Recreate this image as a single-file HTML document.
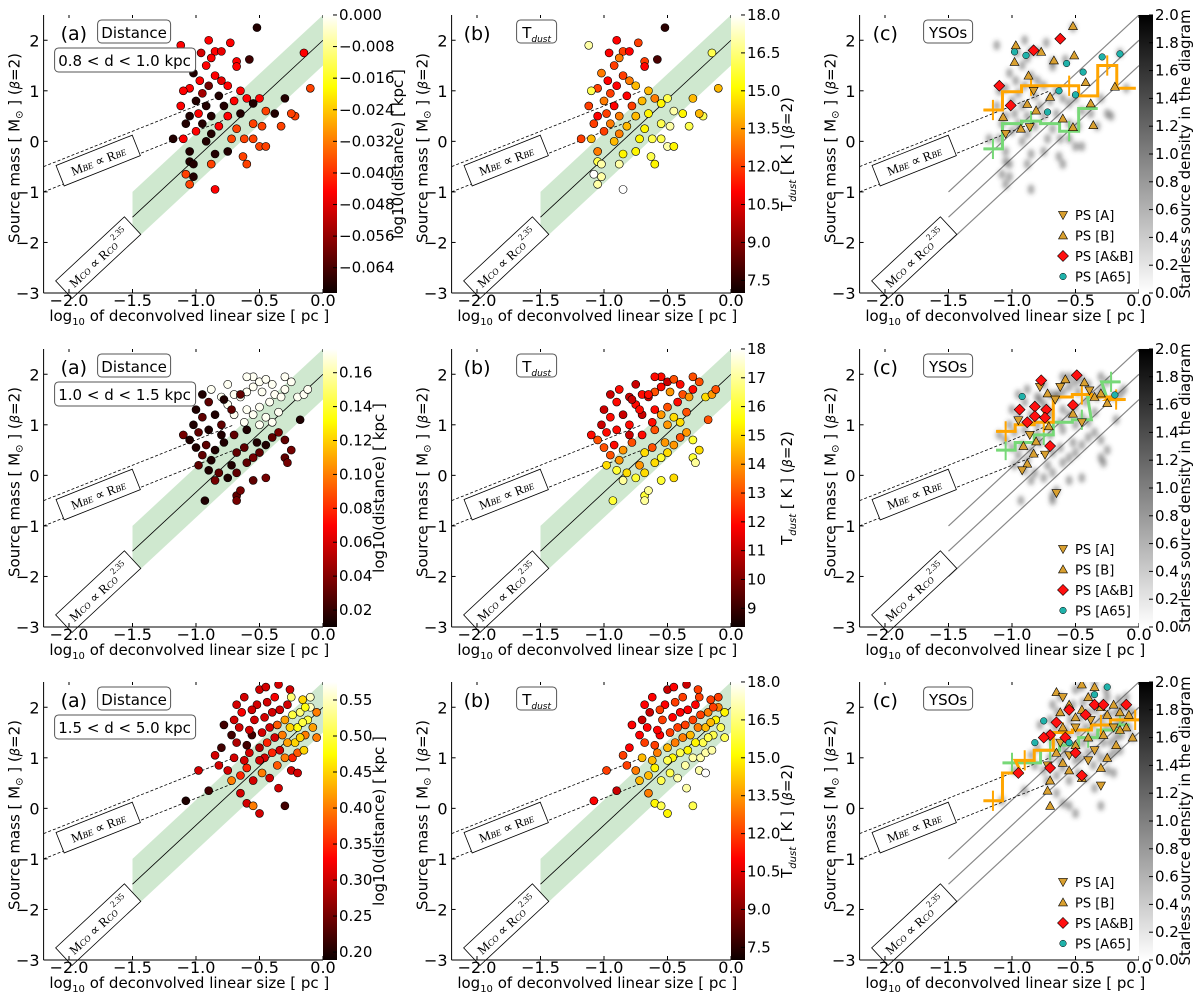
<!DOCTYPE html>
<html><head><meta charset="utf-8"><style>
html,body{margin:0;padding:0;background:#fff;}
svg{display:block;font-family:"DejaVu Sans","Liberation Sans",sans-serif;}
</style></head><body>
<svg id="fig" width="1200" height="992" viewBox="0 0 1200 992" xmlns="http://www.w3.org/2000/svg">
<defs>
<filter id="blur" x="-50%" y="-50%" width="200%" height="200%"><feGaussianBlur stdDeviation="2.2"/></filter>
<linearGradient id="hotg" x1="0" y1="1" x2="0" y2="0">
<stop offset="0" stop-color="#0b0000"/><stop offset="0.365" stop-color="#ff0000"/><stop offset="0.74" stop-color="#ffff00"/><stop offset="1" stop-color="#ffffff"/>
</linearGradient>
<linearGradient id="grayg" x1="0" y1="1" x2="0" y2="0">
<stop offset="0" stop-color="#ffffff"/><stop offset="1" stop-color="#000000"/>
</linearGradient>
</defs>
</svg>
<script>
// ---------- Row 1 (0.8<d<1.0 kpc) ----------
const r1x = [-0.52,-0.9,-0.73,-1.12,-0.96,-0.85,-0.8,-0.88,-0.68,-0.58,-0.92,-0.68,-1.02,-0.97,-0.85,-0.8,-0.75,-0.9,-1.05,-1.1,-0.65,-0.6,-0.95,-0.82,-0.7,-1.0,-1.12,-0.92,-0.78,-0.55,-0.5,-0.3,-0.15,-0.1,-0.45,-0.38,-0.22,-0.25,-1.05,-0.98,-0.88,-0.75,-0.65,-1.08,-0.95,-0.82,-0.68,-0.55,-0.48,-0.33,-1.0,-0.88,-0.72,-0.62,-1.1,-1.18,-0.92,-1.05,-0.85,-0.75,-0.63,-0.5,-0.45,-1.05,-1.02,-0.88,-0.6,-1.08,-1.02,-0.85,-1.05,-0.55];
const r1y = [2.25,2.0,1.95,1.9,1.75,1.78,1.78,1.65,1.58,1.62,1.5,1.48,1.35,1.2,1.3,1.2,1.1,1.1,1.05,1.0,1.0,0.85,0.95,0.9,0.8,0.8,0.7,0.7,0.7,0.75,0.85,0.85,1.75,1.05,0.6,0.55,0.5,0.55,0.5,0.55,0.5,0.5,0.55,0.35,0.35,0.3,0.25,0.35,0.3,0.3,0.2,0.15,0.05,0.05,0.05,0.05,0.0,-0.2,-0.25,-0.2,-0.3,-0.1,-0.1,-0.4,-0.45,-0.45,-0.45,-0.65,-0.7,-0.95,-0.85,0.05];
const r1d = [-0.068,-0.045,-0.045,-0.045,-0.05,-0.045,-0.048,-0.045,-0.045,-0.065,-0.045,-0.045,-0.068,-0.045,-0.045,-0.048,-0.045,-0.06,-0.045,-0.045,-0.045,-0.045,-0.055,-0.068,-0.045,-0.068,-0.045,-0.068,-0.068,-0.068,-0.045,-0.068,-0.045,-0.038,-0.038,-0.068,-0.038,-0.038,-0.068,-0.045,-0.068,-0.045,-0.068,-0.068,-0.068,-0.045,-0.038,-0.038,-0.038,-0.038,-0.045,-0.068,-0.038,-0.038,-0.045,-0.068,-0.068,-0.068,-0.068,-0.068,-0.038,-0.038,-0.038,-0.068,-0.068,-0.038,-0.038,-0.038,-0.068,-0.045,-0.038,-0.038];
const r1t = [7.5,11,12,17,11,12,11,13,12,8,12,11,13,11,12,13,14,11,12,16,14,13,12,11,14,13,12,11,12,15,16,14,16,14,17,15,16,14,11,12,13,14,15,12,13,14,15,16,17,16,12,13,15,16,14,12,14,13,15,15,16,17,15,16,17,17,15,18,17,18,17,16];
// ---------- Row 2 (1.0<d<1.5 kpc) ----------
const r2x = [-0.7,-0.65,-0.6,-0.55,-0.5,-0.55,-0.45,-0.4,-0.48,-0.38,-0.3,-0.25,-0.33,-0.2,-0.15,-0.12,-0.42,-0.5,-0.6,-0.55,-0.45,-0.35,-0.4,-0.5,-0.62,-0.7,-0.75,-0.8,-0.88,-0.75,-0.6,-0.3,
 -0.95,-0.9,-1.0,-0.95,-1.02,-0.98,-1.05,-0.92,-0.85,-0.95,-0.88,-0.98,-0.9,-0.82,-0.85,-0.75,-0.68,-0.72,-0.6,-0.55,-0.5,-0.45,-0.4,-0.35,-0.3,-0.25,-0.3,-0.28,-0.18,-0.68,-0.68,-0.65,-0.55,-0.45,-0.93,-0.78,-0.7,-0.6,-0.8,-0.85,-0.72,-0.78,-0.65,-0.9,-0.62,-0.52,-0.68,-1.1,-1.0,-0.8];
const r2y = [1.6,1.55,1.65,1.75,1.85,1.95,1.9,1.8,1.65,1.6,1.7,1.85,1.55,1.55,1.6,1.7,1.45,1.35,1.3,1.2,1.15,1.25,1.05,1.0,1.05,1.2,1.4,1.55,1.7,1.8,1.95,1.95,
 1.6,1.45,1.3,1.15,1.0,0.85,0.7,0.6,0.5,0.4,0.3,0.2,0.1,0.05,-0.1,-0.05,0.05,0.2,0.25,0.35,0.45,0.6,0.75,0.85,0.7,0.5,0.35,0.25,1.1,-0.4,-0.5,-0.3,-0.1,-0.05,-0.5,0.65,0.8,0.9,1.0,1.2,1.3,1.5,1.6,0.9,0.55,0.65,0.45,0.8,0.55,0.8];
const r2d = [0.172,0.172,0.172,0.172,0.172,0.172,0.172,0.172,0.172,0.172,0.172,0.172,0.172,0.172,0.172,0.172,0.172,0.172,0.172,0.172,0.172,0.172,0.172,0.172,0.172,0.172,0.172,0.172,0.172,0.172,0.172,0.172,
 0.015,0.03,0.015,0.03,0.015,0.03,0.015,0.03,0.015,0.03,0.015,0.03,0.015,0.03,0.035,0.015,0.03,0.015,0.03,0.035,0.03,0.015,0.03,0.035,0.03,0.035,0.03,0.035,0.015,0.03,0.035,0.035,0.03,0.035,0.015,0.015,0.03,0.015,0.03,0.015,0.03,0.015,0.03,0.015,0.03,0.015,0.03,0.035,0.015,0.015,0.015,0.03];
const r2t = [12,11,13,12,11,12,13,12,14,13,12,13,14,15,14,13,12,13,12,14,15,13,15,14,12,11,12,11,12,11,12,13,
 11,12,11,12,11,12,13,12,14,13,14,15,16,15,17,16,15,14,15,16,15,14,13,14,16,15,16,17,13,16,17,17,16,15,16,13,12,13,12,11,12,11,12,12,13,14,15,12,13,11];
// ---------- Row 3 (1.5<d<5.0 kpc) ----------
const r3x = [-1.08,-0.98,-0.9,-0.82,-0.78,-0.72,-0.65,-0.6,-0.55,-0.5,-0.3,-0.25,
 -0.7,-0.68,-0.66,-0.64,-0.62,-0.6,-0.58,-0.56,-0.54,-0.52,-0.5,-0.48,-0.46,-0.44,-0.42,-0.4,-0.38,-0.36,-0.34,-0.32,-0.3,-0.28,-0.26,-0.24,-0.22,-0.2,-0.18,-0.16,-0.14,-0.12,-0.1,-0.08,-0.05,-0.72,-0.7,-0.68,-0.62,-0.6,-0.58,-0.56,-0.5,-0.5,-0.48,-0.46,-0.44,-0.42,-0.4,-0.38,-0.36,-0.34,-0.3,-0.28,-0.26,-0.24,-0.2,-0.18,-0.16,-0.14,-0.45,-0.35,-0.25,-0.55,-0.65,-0.8,-0.85,-0.75,-0.35,-0.2,-0.15,-0.05,-0.1];
const r3y = [0.15,0.75,0.35,0.85,1.65,0.55,0.3,0.1,0.05,-0.1,0.05,0.75,
 1.0,1.3,1.6,1.9,2.2,0.8,1.1,1.45,1.75,2.05,2.35,0.7,1.0,1.3,1.6,1.9,2.2,0.85,1.15,1.45,1.75,2.05,2.35,1.0,1.3,1.6,1.9,2.15,1.45,1.75,2.0,1.6,1.9,1.45,1.75,2.05,0.95,1.25,1.55,1.95,0.95,1.2,1.5,1.8,2.1,0.6,1.1,1.4,1.65,1.95,1.0,1.3,1.6,1.85,1.1,1.4,1.7,2.0,2.4,2.45,2.2,0.55,0.65,1.2,1.05,0.75,0.4,0.7,1.15,1.4,2.2];
const r3d = [0.2,0.3,0.22,0.3,0.22,0.4,0.3,0.3,0.4,0.3,0.22,0.3,
 0.3,0.28,0.3,0.32,0.3,0.35,0.3,0.22,0.3,0.3,0.3,0.4,0.3,0.35,0.3,0.3,0.32,0.38,0.3,0.4,0.42,0.3,0.3,0.35,0.45,0.48,0.52,0.45,0.4,0.5,0.55,0.42,0.4,0.22,0.3,0.3,0.3,0.22,0.3,0.3,0.3,0.28,0.3,0.3,0.3,0.3,0.35,0.3,0.38,0.3,0.4,0.42,0.45,0.5,0.38,0.45,0.5,0.48,0.3,0.3,0.52,0.3,0.35,0.22,0.3,0.3,0.3,0.3,0.45,0.4,0.55];
const r3t = [11,12,10,12,11,14,13,15,16,15,16,17,
 14,12,11,10,11,15,13,11,12,11,10,16,15,13,12,11,12,17,15,14,12,11,12,17,16,14,13,12,16,15,13,16,15,11,10,11,14,12,11,12,16,14,12,11,12,17,16,13,12,11,17,15,13,12,17,16,14,12,11,10,12,16,14,11,12,13,17,18,17,16,12];
// ---------- YSO markers (panel c) ----------
const y1x = [-0.97,-0.98,-0.83,-0.77,-0.89,-0.98,-0.87,-0.67,-0.57,-0.51,-0.52,-0.62,-0.44,-0.42,-0.29,-0.15,-0.19,-1.1,-1.01,-1.07,-0.88,-0.81,-0.72,-0.86,-0.93,-1.05,-0.6,-0.52,-0.36,-0.5,-0.38,-0.7,-0.83,-0.63];
const y1y = [1.9,1.77,1.8,1.77,1.7,1.57,1.3,1.6,1.54,1.7,2.28,2.03,1.37,1.17,1.67,1.73,1.08,1.1,0.71,0.48,0.74,0.61,0.58,0.28,0.25,0.15,0.45,0.28,0.32,0.92,0.75,0.88,1.0,1.0];
const y1k = ["B","A65","AB","B","A65","B","B","B","A65","B","B","AB","A65","B","A65","A65","B","AB","AB","B","B","B","A65","A","B","A","B","B","B","A65","B","B","A","A65"];
const y2x = [-0.92,-0.94,-0.88,-0.95,-0.78,-0.77,-0.72,-0.66,-0.82,-0.73,-0.82,-0.74,-0.71,-0.86,-0.81,-0.7,-0.91,-0.83,-0.74,-0.88,-0.92,-0.65,-0.58,-0.49,-0.43,-0.52,-0.39,-0.35,-0.3,-0.25,-0.19,-0.52,-0.45,-0.62];
const y2y = [1.56,1.3,1.05,1.09,1.75,1.88,1.62,1.5,1.36,1.3,1.17,1.14,0.97,0.8,0.67,0.58,0.58,0.43,0.41,0.23,0.1,-0.35,1.9,1.98,1.84,1.39,1.68,1.55,1.62,1.43,1.59,1.22,1.05,1.75];
const y2k = ["A65","AB","AB","A","A","AB","B","A","AB","AB","AB","AB","B","A","B","AB","B","B","A","B","A","A","B","AB","B","AB","A","B","B","B","A65","B","A","A"];
const y3x = [-0.62,-0.55,-0.5,-0.45,-0.4,-0.35,-0.3,-0.25,-0.2,-0.15,-0.1,-0.05,-0.18,-0.25,-0.3,-0.45,-0.55,-0.6,-0.7,-0.72,-0.7,-0.65,-0.5,-0.4,-0.6,-0.45,-0.15,-0.08,-0.28,-0.65,
 -0.6,-0.72,-0.55,-0.35,-0.4,-0.3,-0.5,-0.2,-0.38,-0.62,
 -0.95,-0.7,-0.65,-0.55,-0.42,-0.5,-0.35,-0.28,-0.1,-0.7,-0.45,-0.58,-0.75,
 -0.82,-0.75,-0.35,-0.25,-0.55];
const y3y = [1.9,2.05,1.8,1.95,2.2,2.4,2.0,1.85,2.05,1.9,1.6,1.4,1.25,1.0,0.8,0.6,0.75,0.9,0.55,0.35,0.05,1.1,1.25,1.4,1.6,2.45,1.55,1.85,1.45,2.3,
 2.2,0.85,1.05,1.15,0.95,0.45,1.6,1.6,1.75,1.3,
 0.7,1.45,1.7,1.95,1.85,1.1,2.05,2.05,2.05,0.8,0.65,1.4,1.4,
 1.3,1.73,2.25,2.4,1.3];
const y3k = ["B","B","B","B","B","B","B","B","B","B","B","B","B","B","B","B","B","B","B","B","B","B","B","B","B","B","B","B","B","B",
 "A","A","A","A","A","A","A","A","A","A",
 "AB","AB","AB","AB","AB","AB","AB","AB","AB","AB","AB","AB","AB",
 "A65","A65","A65","A65","A65"];
// ---------- binned medians (orange = PS, green = starless) ----------
const o1c = [-1.15,-1.0,-0.85,-0.7,-0.55,-0.4,-0.25,-0.1];
const o1v = [0.62,0.98,1.1,1.1,1.1,0.9,1.5,1.05];
const g1c = [-1.15,-1.0,-0.85,-0.7,-0.55,-0.4];
const g1v = [-0.15,0.35,0.4,0.35,0.2,0.65];
const o2c = [-1.05,-0.9,-0.75,-0.6,-0.45,-0.3,-0.18];
const o2v = [0.87,1.0,1.05,1.55,1.6,1.55,1.5];
const g2c = [-1.05,-0.9,-0.75,-0.6,-0.45,-0.33,-0.22];
const g2v = [0.5,0.65,0.8,1.05,1.1,1.55,1.85];
const o3c = [-1.15,-1.0,-0.9,-0.75,-0.6,-0.45,-0.3,-0.15,-0.03];
const o3v = [0.15,0.7,0.95,1.15,1.5,1.55,1.65,1.75,1.75];
const g3c = [-1.0,-0.85,-0.7,-0.55,-0.4,-0.25,-0.15];
const g3v = [0.9,0.9,1.15,1.25,1.4,1.55,1.65];
// ---------- tick labels ----------
const xTicks = [-2.0,-1.5,-1.0,-0.5,0.0];
const yTicks = [-3,-2,-1,0,1,2];
const cbDist1 = [0.000,-0.008,-0.016,-0.024,-0.032,-0.040,-0.048,-0.056,-0.064];
const cbDist2 = [0.02,0.04,0.06,0.08,0.10,0.12,0.14,0.16];
const cbDist3 = [0.20,0.25,0.30,0.35,0.40,0.45,0.50,0.55];
const cbT13 = [7.5,9.0,10.5,12.0,13.5,15.0,16.5,18.0];
const cbT2 = [9,10,11,12,13,14,15,16,17,18];
const cbDens = [0.0,0.2,0.4,0.6,0.8,1.0,1.2,1.4,1.6,1.8,2.0];

const svg = document.getElementById('fig');
const NS = 'http://www.w3.org/2000/svg';
const S = 127, U = 50.55;
const RIGHTS = [323,731,1139], BOTTOMS = [293,627,960];

function mk(tag, attrs, name, parent) {
  const el = document.createElementNS(NS, tag);
  for (const k in attrs) el.setAttribute(k, attrs[k]);
  
  
  (parent || svg).appendChild(el);
  return el;
}
function txt(x, y, s, size, name, extra, parent) {
  const a = Object.assign({x: x, y: y, 'font-size': size, fill: '#000'}, extra || {});
  const t = mk('text', a, name, parent);
  t.innerHTML = s;
  return t;
}
function hot(t) {
  t = Math.max(0, Math.min(1, t));
  const r = Math.min(1, 0.04 + t / 0.365);
  const g = Math.max(0, Math.min(1, (t - 0.365) / 0.375));
  const b = Math.max(0, Math.min(1, (t - 0.74) / 0.26));
  return 'rgb(' + Math.round(r*255) + ',' + Math.round(g*255) + ',' + Math.round(b*255) + ')';
}
function fmtTick(v, dec) { return (v < 0 ? '\u2212' : '') + Math.abs(v).toFixed(dec); }

const rows = [
  {x:r1x, y:r1y, d:r1d, t:r1t, drange:[-0.0704,0.0], dticks:cbDist1, ddec:3, trange:[7.0,18.0], tticks:cbT13, tdec:1, label:'0.8 &lt; d &lt; 1.0 kpc', yx:y1x, yy:y1y, yk:y1k, oc:o1c, ov:o1v, gc:g1c, gv:g1v, cbLabelX:403},
  {x:r2x, y:r2y, d:r2d, t:r2t, drange:[0.01,0.174], dticks:cbDist2, ddec:2, trange:[8.35,18.0], tticks:cbT2, tdec:0, label:'1.0 &lt; d &lt; 1.5 kpc', yx:y2x, yy:y2y, yk:y2k, oc:o2c, ov:o2v, gc:g2c, gv:g2v, cbLabelX:384},
  {x:r3x, y:r3y, d:r3d, t:r3t, drange:[0.189,0.575], dticks:cbDist3, ddec:2, trange:[7.0,18.0], tticks:cbT13, tdec:1, label:'1.5 &lt; d &lt; 5.0 kpc', yx:y3x, yy:y3y, yk:y3k, oc:o3c, ov:o3v, gc:g3c, gv:g3v, cbLabelX:384}
];

rows.forEach((R, ri) => {
  for (let ci = 0; ci < 3; ci++) {
    const right = RIGHTS[ci], bottom = BOTTOMS[ri], top = bottom - 5.5*U, left = right - 2.2*S;
    const sx = x => right + x*S, sy = y => bottom - (y+3)*U;
    const g = mk('g', {}, 'panel-' + (ri+1) + '-' + 'abc'[ci]);
    const clipId = 'clip' + ri + ci;
    const cp = mk('clipPath', {id: clipId}, 'plot-clip', g);
    mk('rect', {x: left, y: top, width: right-left, height: bottom-top}, 'clip-rect', cp);
    const plot = mk('g', {'clip-path': 'url(#' + clipId + ')'}, 'plot-area', g);

    if (ci < 2) {
      mk('polygon', {points: [sx(-1.5)+','+sy(-1.0), sx(0)+','+sy(2.5), sx(0)+','+sy(1.5), sx(-1.5)+','+sy(-2.0)].join(' '), fill: '#a8d5a8', 'fill-opacity': 0.55}, 'mco-scatter-band', plot);
      mk('line', {x1: sx(-1.5), y1: sy(-1.5), x2: sx(0), y2: sy(2.0), stroke: '#000', 'stroke-width': 0.8}, 'mco-relation-line', plot);
    } else {
      [[-1.0],[ -2.0]].forEach((o, k) => {
        mk('line', {x1: sx(-1.5), y1: sy(o[0]), x2: sx(0), y2: sy(o[0]+3.5), stroke: '#888', 'stroke-width': 1.2}, 'mco-bound-line', plot);
      });
      mk('line', {x1: sx(-1.5), y1: sy(-1.5), x2: sx(0), y2: sy(2.0), stroke: '#888', 'stroke-width': 1.2}, 'mco-relation-line', plot);
    }
    mk('line', {x1: sx(-2.2), y1: sy(-0.5), x2: sx(-0.7), y2: sy(1.0), stroke: '#000', 'stroke-width': 0.8, 'stroke-dasharray': '3,2'}, 'mbe-upper-line', plot);
    mk('line', {x1: sx(-2.2), y1: sy(-1.0), x2: sx(-0.7), y2: sy(0.5), stroke: '#000', 'stroke-width': 0.8, 'stroke-dasharray': '3,2'}, 'mbe-lower-line', plot);

    if (ci < 2) {
      const vals = ci === 0 ? R.d : R.t, rng = ci === 0 ? R.drange : R.trange;
      const n = Math.min(R.x.length, R.y.length, vals.length);
      for (let i = 0; i < n; i++) {
        mk('circle', {cx: sx(R.x[i]), cy: sy(R.y[i]), r: 4, fill: hot((vals[i]-rng[0])/(rng[1]-rng[0])), stroke: '#000', 'stroke-width': 0.6}, 'source-point', plot);
      }
    } else {
      const dens = mk('g', {filter: 'url(#blur)'}, 'starless-density', plot);
      const n = Math.min(R.x.length, R.y.length);
      for (let i = 0; i < n; i++) {
        mk('ellipse', {cx: sx(R.x[i]), cy: sy(R.y[i]), rx: 3.5, ry: 5, fill: '#444', 'fill-opacity': 0.45}, 'density-blob', dens);
      }
      const drawStep = (cs, vs, color, name) => {
        const w = 0.15; let d = '';
        for (let i = 0; i < cs.length; i++) {
          d += (i === 0 ? 'M' : 'L') + sx(cs[i]-w/2) + ',' + sy(vs[i]) + 'L' + sx(cs[i]+w/2) + ',' + sy(vs[i]);
        }
        mk('path', {d: d, fill: 'none', stroke: color, 'stroke-width': 3}, name, plot);
        for (let i = 0; i < cs.length; i += 2) {
          mk('line', {x1: sx(cs[i]-w/2), y1: sy(vs[i]), x2: sx(cs[i]+w/2), y2: sy(vs[i]), stroke: color, 'stroke-width': 2}, name + '-errbar', plot);
          mk('line', {x1: sx(cs[i]), y1: sy(vs[i]-0.2), x2: sx(cs[i]), y2: sy(vs[i]+0.2), stroke: color, 'stroke-width': 2}, name + '-errbar', plot);
        }
      };
      drawStep(R.gc, R.gv, '#77d877', 'starless-median-step');
      drawStep(R.oc, R.ov, '#ffa500', 'protostellar-median-step');
      const n2 = Math.min(R.yx.length, R.yy.length, R.yk.length);
      for (let i = 0; i < n2; i++) drawMarker(plot, sx(R.yx[i]), sy(R.yy[i]), R.yk[i]);
      const lg = mk('g', {}, 'legend', g);
      const labs = [['A','PS [A]'],['B','PS [B]'],['AB','PS [A&amp;B]'],['A65','PS [A65]']];
      labs.forEach((L, k) => {
        const ly = top + 200 + k*20.5;
        drawMarker(lg, right - 76, ly, L[0]);
        txt(right - 64, ly + 5, L[1], 13, 'legend-entry-' + L[0].toLowerCase(), {}, lg);
      });
    }

    const bbe = mk('g', {transform: 'translate(' + sx(-1.77) + ',' + sy(-0.38) + ') rotate(-21.7)'}, 'mbe-relation-label', g);
    mk('rect', {x: -41, y: -11, width: 82, height: 22, fill: '#fff', stroke: '#000', 'stroke-width': 0.8}, 'mbe-label-box', bbe);
    txt(0, 5, 'M<tspan font-size="9" font-style="italic">BE</tspan> ∝ R<tspan font-size="9" font-style="italic">BE</tspan>', 13, 'mbe-label-text', {'text-anchor': 'middle', 'font-family': 'Liberation Serif, serif'}, bbe);
    const bco = mk('g', {transform: 'translate(' + sx(-1.77) + ',' + sy(-2.3) + ') rotate(-43)'}, 'mco-relation-label', g);
    mk('rect', {x: -47, y: -12, width: 94, height: 24, fill: '#fff', stroke: '#000', 'stroke-width': 0.8}, 'mco-label-box', bco);
    txt(0, 6, 'M<tspan font-size="9" font-style="italic">CO</tspan> ∝ R<tspan font-size="9" font-style="italic">CO</tspan><tspan font-size="9" dy="-8">2.35</tspan>', 13, 'mco-label-text', {'text-anchor': 'middle', 'font-family': 'Liberation Serif, serif'}, bco);

    mk('line', {x1: left, y1: top, x2: left, y2: bottom, stroke: '#000', 'stroke-width': 1}, 'y-axis-line', g);
    mk('line', {x1: left, y1: bottom, x2: right, y2: bottom, stroke: '#000', 'stroke-width': 1}, 'x-axis-line', g);
    xTicks.forEach(v => {
      mk('line', {x1: sx(v), y1: bottom, x2: sx(v), y2: bottom-4, stroke: '#000'}, 'x-tick', g);
      mk('line', {x1: sx(v), y1: top, x2: sx(v), y2: top+3, stroke: '#000'}, 'x-tick-top', g);
      txt(sx(v), bottom + 13, fmtTick(v, 1), 16, 'x-tick-label', {'text-anchor': 'middle'}, g);
    });
    yTicks.forEach(v => {
      mk('line', {x1: left, y1: sy(v), x2: left+4, y2: sy(v), stroke: '#000'}, 'y-tick', g);
      txt(left - 4, sy(v) + 6, fmtTick(v, 0), 16, 'y-tick-label', {'text-anchor': 'end'}, g);
    });
    txt((left+right)/2 + 6, bottom + 28, 'log<tspan font-size="10" dy="4">10</tspan><tspan dy="-4"> of deconvolved linear size [ pc ]</tspan>', 15, 'x-axis-title', {'text-anchor': 'middle'}, g);
    const ylx = left - 24, yly = (top+bottom)/2 - 6;
    txt(ylx, yly, 'Source mass [ M<tspan font-size="10" dy="3">⊙</tspan><tspan dy="-3"> ] (</tspan><tspan font-style="italic" font-size="13">β</tspan>=2)', 15, 'y-axis-title', {'text-anchor': 'middle', transform: 'rotate(-90 ' + ylx + ' ' + yly + ')'}, g);

    const letter = '(' + 'abc'[ci] + ')';
    const tagX = [left+17, left+12, left+13][ci];
    txt(tagX, top + 25, letter, 19, 'panel-letter', {}, g);
    const boxX = [left+54, left+65, left+64][ci], boxW = [73, 40, 49][ci];
    mk('rect', {x: boxX, y: top + 5, width: boxW, height: 23, rx: 4, fill: '#fff', stroke: '#555', 'stroke-width': 1}, 'panel-title-box', g);
    const tt = ['Distance', 'T<tspan font-size="9" font-style="italic" dy="4">dust</tspan>', 'YSOs'][ci];
    txt(boxX + boxW/2, top + 23, tt, 15, 'panel-title', {'text-anchor': 'middle'}, g);
    if (ci === 0) {
      mk('rect', {x: left + 11, y: top + 33, width: 141, height: 24, rx: 4, fill: '#fff', stroke: '#555'}, 'distance-range-box', g);
      txt(left + 81, top + 51, R.label, 15, 'distance-range-label', {'text-anchor': 'middle'}, g);
    }

    const cb = mk('g', {}, 'colorbar', g);
    mk('rect', {x: right, y: top, width: 14, height: bottom-top, fill: ci === 2 ? 'url(#grayg)' : 'url(#hotg)'}, 'colorbar-gradient', cb);
    let ticks, rng, dec;
    if (ci === 0) { ticks = R.dticks; rng = R.drange; dec = R.ddec; }
    else if (ci === 1) { ticks = R.tticks; rng = R.trange; dec = R.tdec; }
    else { ticks = cbDens; rng = [0, 2]; dec = 1; }
    ticks.forEach(v => {
      const yy = bottom - (v - rng[0]) / (rng[1] - rng[0]) * (bottom - top);
      mk('line', {x1: right + 10, y1: yy, x2: right + 14, y2: yy, stroke: '#000'}, 'colorbar-tick', cb);
      txt(right + 16, yy + 5, fmtTick(v, dec), 15, 'colorbar-tick-label', {}, cb);
    });
    const cl = [R.cbLabelX, right + 61, right + 51][ci];
    const cly = (top+bottom)/2;
    const clText = ['log10(distance) [ kpc ]',
      'T<tspan font-size="10" font-style="italic" dy="4">dust</tspan><tspan dy="-4"> [ K ] (</tspan><tspan font-style="italic" font-size="13">β</tspan>=2)',
      'Starless source density in the diagram'][ci];
    txt(cl, cly, clText, 15, 'colorbar-title', {'text-anchor': 'middle', transform: 'rotate(-90 ' + cl + ' ' + cly + ')'}, cb);
  }
});

function drawMarker(parent, x, y, k) {
  if (k === 'A') {
    mk('polygon', {points: (x-4.5)+','+(y-3.5)+' '+(x+4.5)+','+(y-3.5)+' '+x+','+(y+4.5), fill: '#d9a030', stroke: '#000', 'stroke-width': 0.6}, 'ps-a-marker', parent);
  } else if (k === 'B') {
    mk('polygon', {points: (x-4.5)+','+(y+3.5)+' '+(x+4.5)+','+(y+3.5)+' '+x+','+(y-4.5), fill: '#d9a030', stroke: '#000', 'stroke-width': 0.6}, 'ps-b-marker', parent);
  } else if (k === 'AB') {
    mk('polygon', {points: x+','+(y-5.5)+' '+(x+5.5)+','+y+' '+x+','+(y+5.5)+' '+(x-5.5)+','+y, fill: '#ff1010', stroke: '#000', 'stroke-width': 0.6}, 'ps-ab-marker', parent);
  } else {
    mk('circle', {cx: x, cy: y, r: 3.3, fill: '#20b2aa', stroke: '#000', 'stroke-width': 0.5}, 'ps-a65-marker', parent);
  }
}
</script>
</body></html>
